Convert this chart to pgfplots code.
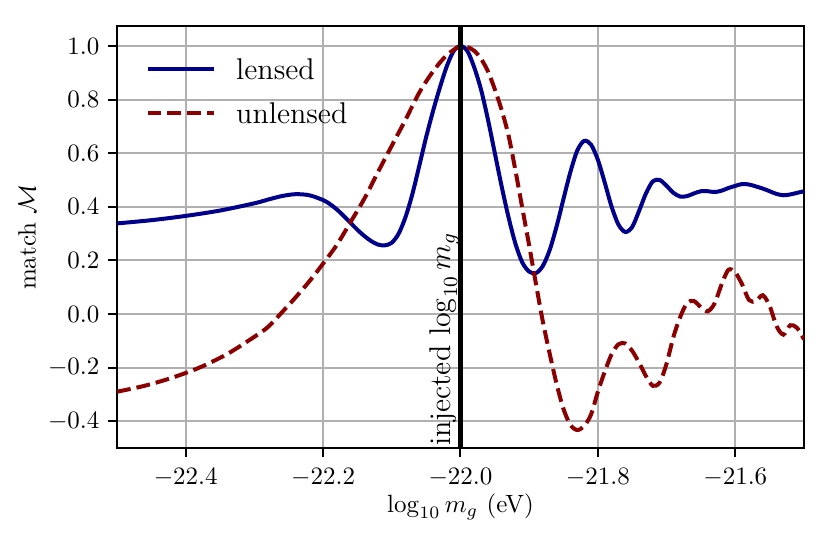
\documentclass[border=0pt]{standalone}
\usepackage{pgfplots}
\pgfplotsset{compat=1.18}
\definecolor{mblue}{RGB}{0,0,139}
\definecolor{mred}{RGB}{139,0,0}
\definecolor{gridgray}{RGB}{176,176,176}
\pgfplotstableread{
x y
-22.50 0.338
-22.45 0.350
-22.40 0.366
-22.35 0.386
-22.30 0.413
-22.28 0.427
-22.26 0.440
-22.24 0.447
-22.22 0.443
-22.20 0.425
-22.19 0.410
-22.18 0.390
-22.17 0.366
-22.16 0.340
-22.15 0.314
-22.14 0.291
-22.13 0.272
-22.12 0.259
-22.11 0.256
-22.10 0.266
-22.09 0.300
-22.08 0.362
-22.07 0.448
-22.06 0.553
-22.05 0.660
-22.04 0.757
-22.03 0.845
-22.02 0.924
-22.01 0.981
-22.00 1.000
-21.99 0.981
-21.98 0.920
-21.97 0.836
-21.96 0.725
-21.95 0.600
-21.94 0.475
-21.93 0.360
-21.92 0.262
-21.91 0.192
-21.90 0.158
-21.89 0.153
-21.88 0.180
-21.87 0.240
-21.86 0.328
-21.85 0.430
-21.84 0.530
-21.83 0.610
-21.82 0.646
-21.81 0.632
-21.80 0.575
-21.79 0.490
-21.78 0.400
-21.77 0.333
-21.76 0.306
-21.75 0.325
-21.74 0.385
-21.73 0.450
-21.72 0.495
-21.71 0.500
-21.70 0.478
-21.69 0.452
-21.68 0.438
-21.67 0.440
-21.66 0.450
-21.65 0.458
-21.64 0.458
-21.63 0.455
-21.62 0.460
-21.61 0.470
-21.60 0.478
-21.59 0.485
-21.58 0.483
-21.57 0.476
-21.56 0.468
-21.55 0.458
-21.54 0.448
-21.53 0.443
-21.52 0.446
-21.51 0.452
-21.50 0.458
}\lensed
\pgfplotstableread{
x y
-22.50 -0.290
-22.46 -0.268
-22.42 -0.238
-22.38 -0.200
-22.34 -0.150
-22.30 -0.085
-22.28 -0.048
-22.26 0.006
-22.24 0.062
-22.22 0.122
-22.20 0.188
-22.18 0.258
-22.16 0.343
-22.14 0.430
-22.12 0.530
-22.10 0.628
-22.08 0.725
-22.06 0.826
-22.04 0.905
-22.02 0.966
-22.00 1.000
-21.99 0.996
-21.98 0.982
-21.97 0.952
-21.96 0.905
-21.95 0.838
-21.94 0.760
-21.93 0.665
-21.92 0.535
-21.91 0.395
-21.90 0.255
-21.89 0.110
-21.88 -0.030
-21.87 -0.150
-21.86 -0.262
-21.85 -0.355
-21.84 -0.414
-21.83 -0.433
-21.82 -0.418
-21.81 -0.375
-21.80 -0.290
-21.79 -0.215
-21.78 -0.150
-21.77 -0.113
-21.76 -0.110
-21.75 -0.138
-21.74 -0.182
-21.73 -0.232
-21.72 -0.268
-21.71 -0.255
-21.70 -0.185
-21.69 -0.085
-21.68 -0.010
-21.67 0.042
-21.66 0.048
-21.65 0.025
-21.64 0.010
-21.63 0.040
-21.62 0.110
-21.61 0.165
-21.60 0.155
-21.59 0.110
-21.58 0.052
-21.57 0.048
-21.56 0.070
-21.55 0.030
-21.54 -0.045
-21.53 -0.077
-21.52 -0.042
-21.51 -0.052
-21.50 -0.095
}\unlensed
\begin{document}
\begin{tikzpicture}
\path[use as bounding box] (-46.8pt,-37.2pt) rectangle (285.6pt,179.2pt);
\begin{axis}[
  at={(0pt,0pt)}, anchor=south west,
  scale only axis, width=274.8pt, height=168.8pt,
  xmin=-22.5, xmax=-21.5, ymin=-0.5, ymax=1.0746,
  xtick={-22.4,-22.2,-22.0,-21.8,-21.6},
  ytick={-0.4,-0.2,0,0.2,0.4,0.6,0.8,1.0},
  scaled ticks=false,
  x tick label style={yshift=-1pt, /pgf/number format/fixed, /pgf/number format/fixed zerofill, /pgf/number format/precision=1},
  y tick label style={/pgf/number format/fixed, /pgf/number format/fixed zerofill, /pgf/number format/precision=1},
  tick align=outside, major tick length=3.5pt,
  tick style={black, line width=0.8pt},
  xtick pos=bottom, ytick pos=left,
  grid=major, grid style={gridgray, line width=0.8pt},
  axis line style={line width=0.8pt},
  xlabel={$\log_{10} m_g$ (eV)},
  ylabel={match $\mathcal{M}$},
  xlabel style={at={(axis description cs:0.5,-0.1398)}, anchor=center},
  ylabel style={at={(axis description cs:-0.131,0.5)}, anchor=center},
  legend cell align=left,
  legend image code/.code={\draw[#1] (0pt,0pt) -- (26.7pt,0pt);},
  legend style={at={(0,1)}, anchor=north west, xshift=11.2pt, yshift=-13pt,
    draw=none, fill=none, inner sep=0pt, row sep=9.3pt, column sep=8pt,
    nodes={inner sep=0pt, text depth=0pt},
    font=\fontsize{12}{14.4}\selectfont},
]
\addplot[mblue, line width=1.6pt, smooth] table[x=x,y=y] {\lensed};
\addlegendentry{lensed}
\addplot[mred, line width=1.6pt, smooth, dash pattern=on 5.55pt off 2.4pt] table[x=x,y=y] {\unlensed};
\addlegendentry{unlensed}
\addplot[black, line width=1.8pt, forget plot] coordinates {(-22,-0.6) (-22,1.2)};
\node[rotate=90, anchor=south west, inner sep=0.6pt, font=\fontsize{12}{14.4}\selectfont] at (axis cs:-22,-0.5) {injected $\log_{10} m_g$};
\end{axis}
\end{tikzpicture}
\end{document}
